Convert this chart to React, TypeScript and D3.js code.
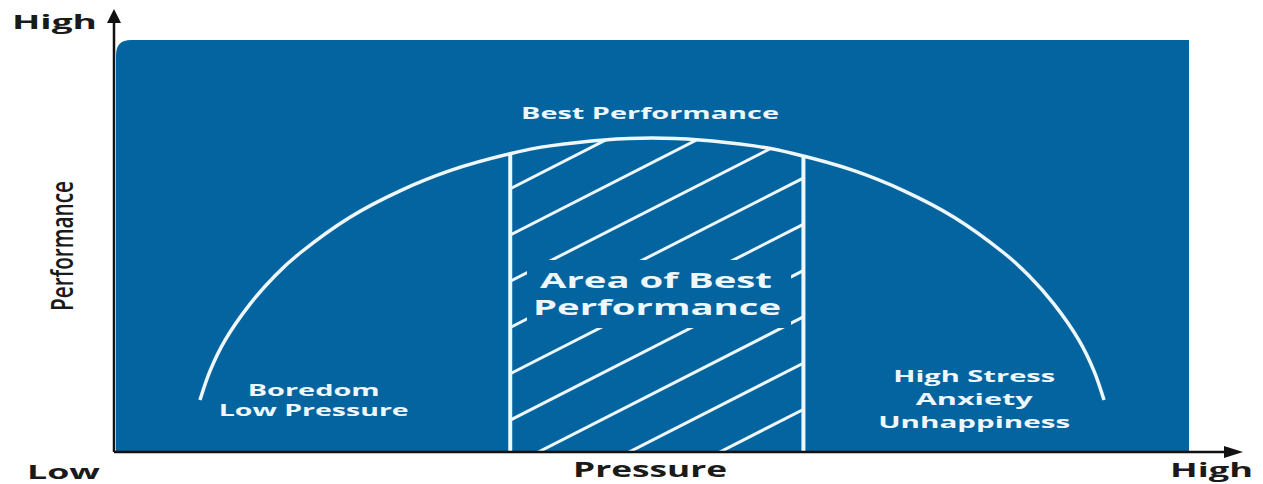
import React from "react";
import * as d3 from "d3";

// Performance curve (pressure 0..100, performance 0..100)
const pressure = [7.91, 8.85, 10.24, 12.57, 14.9, 17.23, 21.88, 26.54, 31.19, 36.78, 40.5, 50.0, 59.5, 63.22, 68.81, 73.46, 78.12, 82.77, 85.1, 87.43, 89.76, 91.15, 92.09];
const performance = [12.6, 19.7, 27.1, 35.9, 42.8, 48.3, 57.0, 63.4, 68.3, 72.4, 74.3, 76.2, 74.3, 72.4, 68.3, 63.4, 57.0, 48.3, 42.8, 35.9, 27.1, 19.7, 12.6];

// band of best performance (pressure range)
const bestBand = [36.8, 64.1];

const zoneLabels = [
  { lines: ["Boredom", "Low Pressure"], widths: [132, 190], x: 18.5 },
  { lines: ["High Stress", "Anxiety", "Unhappiness"], widths: [162, 117, 192], x: 80 },
];
const axisLabels = { yHigh: "High", xLow: "Low", xHigh: "High", x: "Pressure", y: "Performance" };
const peakLabel = "Best Performance";
const bandLabel = ["Area of Best", "Performance"];

const W = 1263;
const H = 484;
const BLUE = "#03649f";
const TXT = "#eef7fc";
const FONT = "'Open Sans', 'Noto Sans', sans-serif";

export default function App() {
  const x = d3.scaleLinear().domain([0, 100]).range([115, 1189]);
  const y = d3.scaleLinear().domain([0, 100]).range([452, 40]);
  const pts: [number, number][] = pressure.map((p, i) => [p, performance[i]]);
  const line = d3
    .line<[number, number]>()
    .x((d) => x(d[0]))
    .y((d) => y(d[1]))
    .curve(d3.curveCatmullRom.alpha(0.5));
  const area = d3
    .area<[number, number]>()
    .x((d) => x(d[0]))
    .y0(y(0))
    .y1((d) => y(d[1]))
    .curve(d3.curveCatmullRom.alpha(0.5));

  const bx0 = x(bestBand[0]);
  const bx1 = x(bestBand[1]);
  const slope = 0.51;
  const hatch = d3.range(0, 10).map((k) => {
    const y0 = 188.7 + 46.28 * k;
    const xa = bx0 - 20;
    const xb = bx1 + 20;
    return { x1: xa, y1: y0 + slope * 20, x2: xb, y2: y0 - slope * (xb - bx0) };
  });

  const xl = x(0);
  const yb = y(0);

  return (
    <svg width={W} height={H} style={{ position: "absolute", left: 0, top: 0 }}>
      <defs>
        <clipPath id="under">
          <path d={area(pts) || ""} />
        </clipPath>
        <clipPath id="band">
          <rect x={bx0} y={0} width={bx1 - bx0} height={H} />
        </clipPath>
      </defs>
      <rect x={0} y={0} width={W} height={H} fill="#fff" />
      {/* blue panel with rounded top-left corner */}
      <path
        d={`M${xl + 1},${yb} V${y(100) + 15} Q${xl + 1},${y(100)} ${xl + 16},${y(100)} H${x(100)} V${yb} Z`}
        fill={BLUE}
      />
      {/* hatching */}
      <g clipPath="url(#band)">
        <g clipPath="url(#under)">
          {hatch.map((h, i) => (
            <line key={i} {...h} stroke={TXT} strokeWidth={3} />
          ))}
        </g>
      </g>
      {/* band verticals */}
      <g clipPath="url(#under)">
        {bestBand.map((b, i) => (
          <line key={i} x1={x(b)} x2={x(b)} y1={y(100)} y2={yb} stroke={TXT} strokeWidth={4} />
        ))}
      </g>
      {/* curve */}
      <path d={line(pts) || ""} fill="none" stroke={TXT} strokeWidth={3.5} />
      {/* band label background */}
      <rect x={527} y={260} width={264} height={68} fill={BLUE} />
      <g fill={TXT} fontFamily={FONT} fontWeight={700} textAnchor="middle">
        <text x={656} y={288} fontSize={22} textLength={232} lengthAdjust="spacingAndGlyphs">
          {bandLabel[0]}
        </text>
        <text x={657} y={315} fontSize={22} textLength={248} lengthAdjust="spacingAndGlyphs">
          {bandLabel[1]}
        </text>
        <text x={650} y={119} fontSize={16} textLength={258} lengthAdjust="spacingAndGlyphs">
          {peakLabel}
        </text>
        {zoneLabels.map((z, zi) =>
          z.lines.map((t, i) => {
            const base = zi === 0 ? 396 + i * 20 : 382 + i * 23;
            return (
              <text
                key={zi + "-" + i}
                x={x(z.x)}
                y={base}
                fontSize={16}
                textLength={z.widths[i]}
                lengthAdjust="spacingAndGlyphs"
              >
                {t}
              </text>
            );
          })
        )}
      </g>
      {/* axes */}
      <g stroke="#111" strokeWidth={2.5}>
        <line x1={xl - 1} y1={yb} x2={xl - 1} y2={20} />
        <line x1={xl - 1} y1={yb} x2={1228} y2={yb} />
      </g>
      <path d={`M${xl - 1},9 L${xl - 8},23 L${xl + 6},23 Z`} fill="#111" />
      <path d={`M1243,${yb} L1224,${yb - 6} L1224,${yb + 6} Z`} fill="#111" />
      <g fill="#1a1a1a" fontFamily={FONT} fontWeight={700}>
        <text x={12} y={29} fontSize={20} textLength={85} lengthAdjust="spacingAndGlyphs">
          {axisLabels.yHigh}
        </text>
        <text x={27} y={479} fontSize={20} textLength={73} lengthAdjust="spacingAndGlyphs">
          {axisLabels.xLow}
        </text>
        <text x={1170} y={477} fontSize={20} textLength={83} lengthAdjust="spacingAndGlyphs">
          {axisLabels.xHigh}
        </text>
        <text x={573} y={477} fontSize={22} textLength={154} lengthAdjust="spacingAndGlyphs">
          {axisLabels.x}
        </text>
      </g>
      <text
        transform="translate(73,311) rotate(-90)"
        fill="#1a1a1a"
        fontFamily={FONT}
        fontWeight={600}
        fontSize={30}
        textLength={130}
        lengthAdjust="spacingAndGlyphs"
      >
        {axisLabels.y}
      </text>
    </svg>
  );
}
